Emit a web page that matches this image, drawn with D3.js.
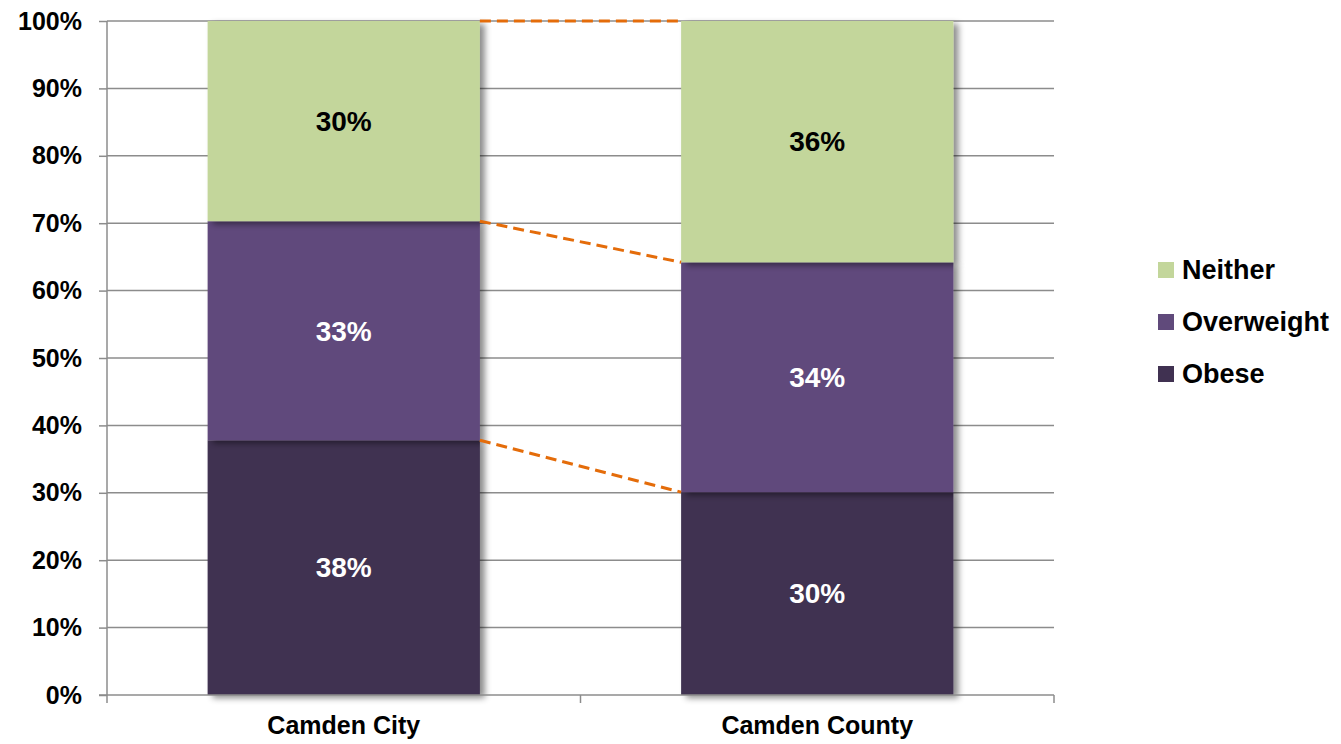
<!DOCTYPE html>
<html>
<head>
<meta charset="utf-8">
<script src="https://cdn.jsdelivr.net/npm/d3@7"></script>
<style>
  body { margin: 0; background: #fff; }
  text { font-family: "Liberation Sans", Arial, sans-serif; font-weight: bold; }
</style>
</head>
<body>
<div id="chart"></div>
<script>
// chart data
var categories = ["Camden City", "Camden County"];
var seriesNames = ["Obese", "Overweight", "Neither"];
var obese = [37.8, 30.1];
var overweight = [32.5, 34.1];
var neither = [29.7, 35.8];
var yTicks = [0, 10, 20, 30, 40, 50, 60, 70, 80, 90, 100];

var colors = { Obese: "#403151", Overweight: "#604a7b", Neither: "#c3d69b" };
var labelColors = { Obese: "#fff", Overweight: "#fff", Neither: "#000" };

var width = 1341, height = 744;
var margin = { top: 21, right: 287, bottom: 49, left: 107 };
var plotW = width - margin.left - margin.right;
var plotH = height - margin.top - margin.bottom;

var svg = d3.select("#chart").append("svg")
    .attr("width", width)
    .attr("height", height);

var defs = svg.append("defs");
var shadow = defs.append("filter").attr("id", "shadow")
    .attr("x", "-10%").attr("y", "-10%").attr("width", "130%").attr("height", "130%");
shadow.append("feDropShadow")
    .attr("dx", 5).attr("dy", 3).attr("stdDeviation", 3)
    .attr("flood-color", "#000").attr("flood-opacity", 0.45);

var g = svg.append("g").attr("transform", "translate(" + margin.left + "," + margin.top + ")");

var x = d3.scaleBand().domain(categories).range([0, plotW]).padding(0);
var y = d3.scaleLinear().domain([0, 100]).range([plotH, 0]);
var barW = x.bandwidth() * 0.575;

// build stacked table
var table = categories.map(function(c, i) {
    return { cat: c, Obese: obese[i], Overweight: overweight[i], Neither: neither[i] };
});
var stacked = d3.stack().keys(seriesNames)(table);

// gridlines
g.selectAll(".grid").data(yTicks.slice(1))
    .enter().append("line")
    .attr("x1", 0).attr("x2", plotW)
    .attr("y1", function(d) { return y(d); })
    .attr("y2", function(d) { return y(d); })
    .attr("stroke", "#8c8c8c").attr("stroke-width", 1.5);

// bars
var layers = g.selectAll(".layer").data(stacked).enter().append("g");
layers.selectAll("rect").data(function(d) { return d; })
    .enter().append("rect")
    .attr("x", function(d) { return x(d.data.cat) + (x.bandwidth() - barW) / 2; })
    .attr("y", function(d) { return y(d[1]); })
    .attr("width", barW)
    .attr("height", function(d) { return y(d[0]) - y(d[1]); })
    .attr("fill", function(d, i, nodes) { return colors[d3.select(nodes[i].parentNode).datum().key]; })
    .attr("filter", "url(#shadow)");

// labels
layers.selectAll("text").data(function(d) { return d.map(function(v) { return { key: d.key, v: v }; }); })
    .enter().append("text")
    .attr("x", function(d) { return x(d.v.data.cat) + x.bandwidth() / 2; })
    .attr("y", function(d) { return (y(d.v[0]) + y(d.v[1])) / 2; })
    .attr("dy", "0.35em")
    .attr("text-anchor", "middle")
    .attr("font-size", 28)
    .attr("fill", function(d) { return labelColors[d.key]; })
    .text(function(d) { return Math.round(d.v[1] - d.v[0]) + "%"; });

// series lines connecting segment tops
stacked.forEach(function(layer) {
    g.append("line")
        .attr("x1", x(categories[0]) + (x.bandwidth() + barW) / 2)
        .attr("y1", y(layer[0][1]))
        .attr("x2", x(categories[1]) + (x.bandwidth() - barW) / 2)
        .attr("y2", y(layer[1][1]))
        .attr("stroke", "#e46c0a")
        .attr("stroke-width", 3)
        .attr("stroke-dasharray", "11,6");
});

// y axis
var yAxis = g.append("g").call(d3.axisLeft(y).tickValues(yTicks).tickSize(8).tickFormat(function(d) { return d + "%"; }));
yAxis.select(".domain").attr("stroke", "#8c8c8c").attr("stroke-width", 1.5).attr("d", "M0," + plotH + "V0");
yAxis.selectAll(".tick line").attr("stroke", "#8c8c8c").attr("stroke-width", 1.5);
yAxis.selectAll(".tick text").attr("font-size", 25).attr("fill", "#000").attr("x", -25)
    .style("font-family", "'Liberation Sans', Arial, sans-serif").style("font-weight", "bold");

// x axis
var xAxis = g.append("g").attr("transform", "translate(0," + plotH + ")")
    .call(d3.axisBottom(x).tickSize(0).tickPadding(21));
xAxis.select(".domain").attr("stroke", "#8c8c8c").attr("stroke-width", 1.5).attr("d", "M-8,0H" + plotW);
xAxis.selectAll(".tick text").attr("font-size", 25).attr("fill", "#000")
    .style("font-family", "'Liberation Sans', Arial, sans-serif").style("font-weight", "bold");
g.selectAll(".xtick").data([0, plotW / 2, plotW]).enter().append("line")
    .attr("x1", function(d) { return d; }).attr("x2", function(d) { return d; })
    .attr("y1", plotH).attr("y2", plotH + 8)
    .attr("stroke", "#8c8c8c").attr("stroke-width", 1.5);

// legend
var legend = svg.append("g").attr("transform", "translate(1158,270)");
var legendItems = seriesNames.slice().reverse();
var li = legend.selectAll("g").data(legendItems).enter().append("g")
    .attr("transform", function(d, i) { return "translate(0," + i * 52 + ")"; });
li.append("rect").attr("x", 0).attr("y", -8).attr("width", 16).attr("height", 16)
    .attr("fill", function(d) { return colors[d]; });
li.append("text").attr("x", 24).attr("dy", "0.35em").attr("font-size", 27).attr("fill", "#000")
    .text(function(d) { return d; });
</script>
</body>
</html>
